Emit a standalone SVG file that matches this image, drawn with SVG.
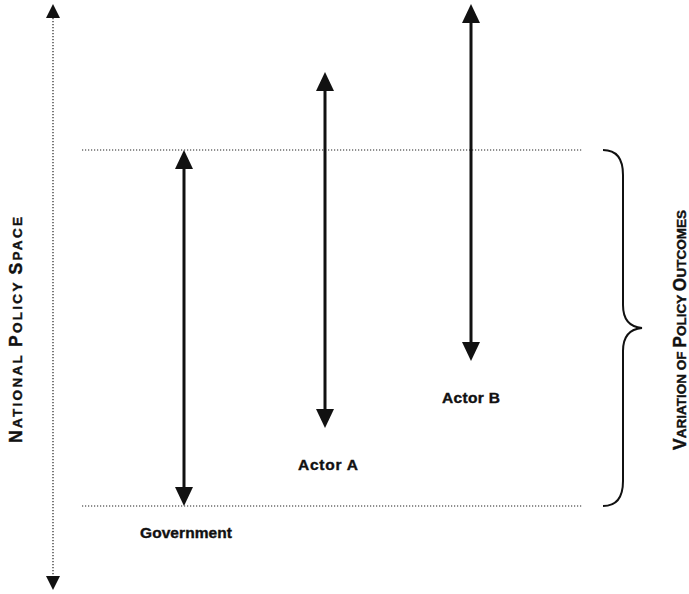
<svg xmlns="http://www.w3.org/2000/svg" width="689" height="594" viewBox="0 0 689 594">
<style>
  .dot { stroke:#222; stroke-width:1.2; stroke-dasharray:1.2 1.8; fill:none; }
  .rng { stroke:#111; stroke-width:3; fill:none; marker-start:url(#big); marker-end:url(#big); }
  .lbl { font-family:"Liberation Sans", Arial, sans-serif; font-weight:bold; font-size:15.5px; fill:#111; stroke:#111; stroke-width:0.4; text-anchor:middle; }
  .cap { font-family:"Liberation Sans", Arial, sans-serif; font-weight:bold; fill:#111; stroke:#111; stroke-width:0.4; }
  .big { font-size:17.5px; }
  .sm { font-size:13.5px; }
</style>
<defs>
  <marker id="big" viewBox="0 0 19 18" refX="9" refY="9" markerWidth="19" markerHeight="18" markerUnits="userSpaceOnUse" orient="auto-start-reverse">
    <path d="M0,0 L19,9 L0,18 z" fill="#111"/>
  </marker>
  <marker id="small" viewBox="0 0 14 14" refX="0" refY="7" markerWidth="14" markerHeight="14" markerUnits="userSpaceOnUse" orient="auto-start-reverse">
    <path d="M0,0 L14,7 L0,14 z" fill="#111"/>
  </marker>
</defs>

<g id="axis">
  <line class="dot" x1="53" y1="18" x2="53" y2="576" marker-start="url(#small)" marker-end="url(#small)"/>
  <text class="cap" transform="translate(22,330) rotate(-90)" text-anchor="middle" textLength="226" lengthAdjust="spacing"><tspan class="big">N</tspan><tspan class="sm">ATIONAL </tspan><tspan class="big">P</tspan><tspan class="sm">OLICY </tspan><tspan class="big">S</tspan><tspan class="sm">PACE</tspan></text>
</g>

<g id="bounds">
  <line class="dot" x1="82" y1="150" x2="583" y2="150"/>
  <line class="dot" x1="82" y1="506" x2="583" y2="506"/>
</g>

<g id="connectors">
  <line class="rng" x1="184" y1="160" x2="184" y2="496"/>
  <line class="rng" x1="325" y1="82" x2="325" y2="418"/>
  <line class="rng" x1="471" y1="14" x2="471" y2="351"/>
</g>

<g id="government">
  <text class="lbl" x="186" y="538" textLength="92" lengthAdjust="spacing">Government</text>
</g>
<g id="actor-a">
  <text class="lbl" x="328" y="470" textLength="60" lengthAdjust="spacing">Actor A</text>
</g>
<g id="actor-b">
  <text class="lbl" x="471" y="403" textLength="58" lengthAdjust="spacing">Actor B</text>
</g>

<g id="outcomes">
  <path d="M603,150 C618,150 623,160 623,175 L623,305 C623,320 630,327 642,328 C630,329 623,336 623,351 L623,481 C623,496 618,506 603,506" fill="none" stroke="#111" stroke-width="2"/>
  <text class="cap" transform="translate(686,330) rotate(-90)" text-anchor="middle" textLength="240" lengthAdjust="spacing"><tspan class="big">V</tspan><tspan class="sm">ARIATION OF </tspan><tspan class="big">P</tspan><tspan class="sm">OLICY </tspan><tspan class="big">O</tspan><tspan class="sm">UTCOMES</tspan></text>
</g>
</svg>
